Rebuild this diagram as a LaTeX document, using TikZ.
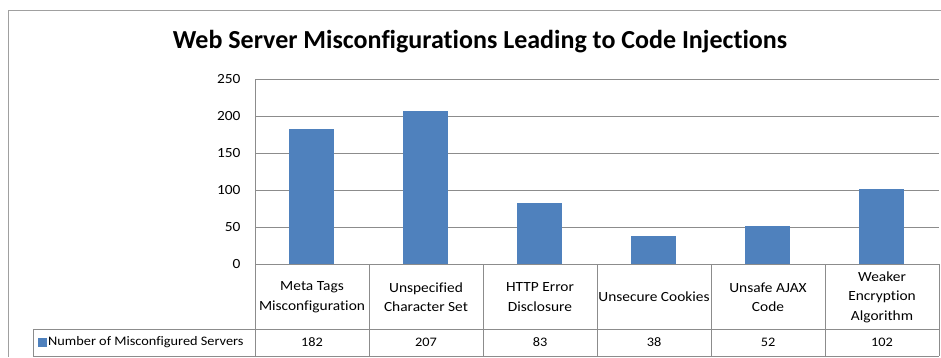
\documentclass[tikz,border=0pt]{standalone}
\usepackage{fontspec}
\setmainfont{Carlito}[Ligatures=NoCommon]
\newfontfamily\chartfont[FakeStretch=1.1, Ligatures=NoCommon]{Carlito}
\usepackage{xcolor}
\definecolor{barblue}{RGB}{79, 129, 189}
\definecolor{gridgray}{RGB}{140, 140, 140}
\definecolor{framegray}{RGB}{160, 160, 160}
\usetikzlibrary{positioning}

\begin{document}
\begin{tikzpicture}[x=1pt, y=-1pt,
		gridline/.style={draw=gridgray, line width=0.9pt},
		tick/.style={anchor=east, font=\chartfont\fontsize{14}{16}\selectfont},
		catlabel/.style={align=center, font=\chartfont\fontsize{14}{19.5}\selectfont},
		cell/.style={font=\chartfont\fontsize{13}{15}\selectfont}]
			\useasboundingbox (0,0) rectangle (941,357);
			\fill [white] (0,0) rectangle (941,357);
			
			% chart frame
			\draw [framegray, line width=1pt] (8,357) -- (8,10) -- (941,10);
			
			\node [font=\bfseries\fontsize{26}{30}\selectfont] (title) at (480,42)
			{Web Server Misconfigurations Leading to Code Injections};
			
			% value axis and grid
			\foreach \k in {0,...,5}{
				\pgfmathsetmacro{\yy}{264-37*\k}
				\pgfmathtruncatemacro{\val}{50*\k}
				\draw [gridline] (255,\yy) -- (939,\yy);
				\node [tick] (tick\k) at (244,\yy) {\val};
			}
			\draw [gridline] (255,79) -- (255,356);
			
			% bars
			\foreach \v [count=\i] in {182, 207, 83, 38, 52, 102}{
				\fill [barblue] (255+114*\i-114+34,264) rectangle ++(45,-0.74*\v);
			}
			
			% data table
			\draw [gridline] (33,329) -- (939,329);
			\draw [gridline] (33,356) -- (939,356);
			\draw [gridline] (33,329) -- (33,356);
			\foreach \i in {1,...,6}
				\draw [gridline] (255+114*\i,264) -- (255+114*\i,356);
			
			\foreach \name [count=\i] in {{Meta Tags\\Misconfiguration}, {Unspecified\\Character Set},
				{HTTP Error\\Disclosure}, {Unsecure Cookies}, {Unsafe AJAX\\Code},
				{Weaker\\Encryption\\Algorithm}}
				\node [catlabel] (cat\i) at (255+114*\i-57,297) {\name};
			
			\foreach \v [count=\i] in {182, 207, 83, 38, 52, 102}
				\node [cell] (val\i) at (255+114*\i-57,342.5) {\v};
			
			\fill [barblue] (38,338) rectangle ++(9,9);
			\node [cell, anchor=west, inner sep=0pt] (series) at (48,342.5) {Number of Misconfigured Servers};
		\end{tikzpicture}
\end{document}
